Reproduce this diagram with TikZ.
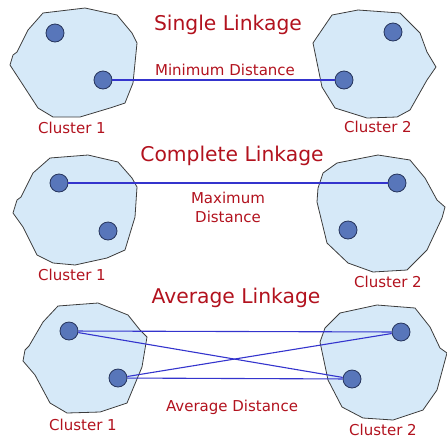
\documentclass[tikz,border=0pt]{standalone}
\usepackage{fontspec}
\setmainfont{DejaVu Sans}
\definecolor{clusterfill}{RGB}{214,233,248}
\definecolor{clusteredge}{RGB}{60,60,60}
\definecolor{pointfill}{RGB}{88,118,186}
\definecolor{pointedge}{RGB}{38,52,92}
\definecolor{linkblue}{RGB}{52,52,205}
\definecolor{labelred}{RGB}{178,18,30}
\tikzset{
  cluster/.style={fill=clusterfill, draw=clusteredge, line width=0.8pt, line join=round},
  pt/.style={circle, fill=pointfill, draw=pointedge, line width=0.8pt, minimum size=18pt, inner sep=0pt},
  link/.style={draw=linkblue, line width=1.1pt},
  heading/.style={text=labelred, font=\fontsize{20.3}{22}\selectfont, inner sep=0pt},
  caption/.style={text=labelred, font=\fontsize{15}{19}\selectfont, inner sep=0pt, align=center}
}
\begin{document}
\begin{tikzpicture}[x=1pt,y=-1pt]
\useasboundingbox (0,0) rectangle (447,440);

% ---------- Single linkage ----------
\draw[cluster] (43,13) -- (85,8) -- (117,15) -- (132,33) -- (137,43) -- (133,83) -- (125,103)
  -- (110,108) -- (80,117) -- (53,117) -- (38,108) -- (25,88) -- (10,65) -- (13,55) -- (17,52)
  -- (28,30) -- cycle;
\draw[cluster] (332,15) -- (358,10) -- (400,13) -- (420,33) -- (427,52) -- (436,67) -- (427,80)
  -- (410,110) -- (397,117) -- (367,118) -- (335,108) -- (322,87) -- (313,43) -- (317,37) -- cycle;
\node[pt] (s1a) at (55,33) {};
\node[pt] (s1b) at (103,80) {};
\node[pt] (s2a) at (393,32) {};
\node[pt] (s2b) at (344,80) {};
\draw[link] (s1b) -- (s2b);
\node[heading] (t1) at (228,25) {Single Linkage};
\node[caption] (c1) at (225,70) {Minimum Distance};
\node[caption] (l11) at (72,128) {Cluster 1};
\node[caption] (l12) at (378,127) {Cluster 2};

% ---------- Complete linkage ----------
\draw[cluster] (50,158) -- (88,155) -- (118,162) -- (132,178) -- (137,187) -- (135,217) -- (125,250)
  -- (107,258) -- (75,265) -- (53,263) -- (37,255) -- (23,227) -- (13,213) -- (17,200) -- (21,197)
  -- (33,173) -- cycle;
\draw[cluster] (337,163) -- (378,155) -- (410,160) -- (425,178) -- (437,200) -- (445,207) -- (442,218)
  -- (427,250) -- (407,270) -- (373,272) -- (348,263) -- (327,243) -- (317,202) -- (318,188)
  -- (323,173) -- cycle;
\node[pt] (m1a) at (59,183) {};
\node[pt] (m1b) at (108,231) {};
\node[pt] (m2a) at (397,183) {};
\node[pt] (m2b) at (348,230) {};
\draw[link] (m1a) -- (m2a);
\node[heading] (t2) at (232,156) {Complete Linkage};
\node[caption] (c2) at (228,207) {Maximum\\Distance};
\node[caption] (l21) at (72,275) {Cluster 1};
\node[caption] (l22) at (388,282) {Cluster 2};

% ---------- Average linkage ----------
\draw[cluster] (58,306) -- (98,303) -- (128,315) -- (140,330) -- (147,337) -- (142,367) -- (127,403)
  -- (100,412) -- (67,413) -- (50,403) -- (35,375) -- (23,361) -- (25,350) -- (29,346) -- (43,322) -- cycle;
\draw[cluster] (340,313) -- (377,305) -- (415,308) -- (430,327) -- (440,348) -- (447,353) -- (437,390)
  -- (423,410) -- (393,420) -- (363,418) -- (342,407) -- (328,380) -- (320,342) -- (325,328) -- cycle;
\node[pt] (a1a) at (69,331) {};
\node[pt] (a1b) at (118,378) {};
\node[pt] (a2a) at (401,332) {};
\node[pt] (a2b) at (352,379) {};
\draw[link] (a1a) -- (a2a);
\draw[link] (a1a) -- (a2b);
\draw[link] (a1b) -- (a2a);
\draw[link] (a1b) -- (a2b);
\node[heading] (t3) at (236,298) {Average Linkage};
\node[caption] (c3) at (232,407) {Average Distance};
\node[caption] (l31) at (83,425) {Cluster 1};
\node[caption] (l32) at (383,430) {Cluster 2};
\end{tikzpicture}
\end{document}
